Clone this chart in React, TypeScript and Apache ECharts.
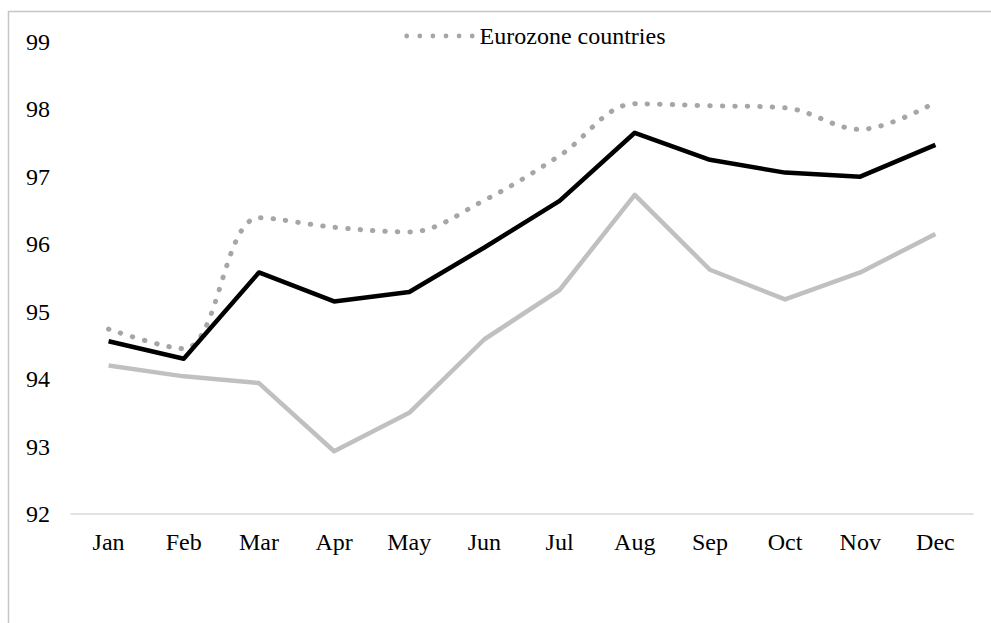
import React, { useEffect, useRef } from "react";
import * as echarts from "echarts";

const months = ["Jan", "Feb", "Mar", "Apr", "May", "Jun", "Jul", "Aug", "Sep", "Oct", "Nov", "Dec"];
const eurozone = [94.74, 94.45, 96.39, 96.25, 96.18, 96.65, 97.31, 98.08, 98.05, 98.02, 97.7, 98.1];
const blackSeries = [94.56, 94.3, 95.58, 95.15, 95.29, 95.95, 96.64, 97.65, 97.25, 97.06, 97.0, 97.47];
const graySeries = [94.2, 94.04, 93.94, 92.93, 93.5, 94.59, 95.32, 96.73, 95.62, 95.18, 95.58, 96.15];
const yMin = 92;
const yMax = 99;

const FONT = "'Liberation Serif', 'Times New Roman', serif";

// Legend key: a row of six round dots, like the dotted series stroke.
function dotRowPath(count: number, r: number, step: number): string {
  let d = "path://";
  for (let i = 0; i < count; i++) {
    const cx = r + i * step;
    d += `M${cx - r},${r}A${r},${r},0,1,0,${cx + r},${r}A${r},${r},0,1,0,${cx - r},${r}Z`;
  }
  return d;
}

export default function App() {
  const ref = useRef<HTMLDivElement>(null);

  useEffect(() => {
    if (!ref.current) return;
    const chart = echarts.init(ref.current, undefined, { renderer: "svg" });
    chart.setOption({
      animation: false,
      backgroundColor: "#ffffff",
      textStyle: { fontFamily: FONT },
      grid: { left: 71, right: 18, top: 41.7, bottom: 109, containLabel: false },
      legend: {
        data: [{ name: "Eurozone countries", icon: dotRowPath(6, 2.4, 13.1) }],
        left: 399.3,
        top: 19,
        itemWidth: 70.3,
        itemHeight: 4.8,
        textStyle: { fontFamily: FONT, fontSize: 24, color: "#000" },
      },
      xAxis: {
        type: "category",
        data: months,
        boundaryGap: true,
        axisLine: { show: true, lineStyle: { color: "#D9D9D9", width: 1.5 } },
        axisTick: { show: false },
        axisLabel: { color: "#000", fontSize: 24, fontFamily: FONT, margin: 16 },
        splitLine: { show: false },
      },
      yAxis: {
        type: "value",
        min: yMin,
        max: yMax,
        interval: 1,
        axisLine: { show: false },
        axisTick: { show: false },
        splitLine: { show: false },
        axisLabel: { color: "#000", fontSize: 24, fontFamily: FONT, margin: 21 },
      },
      graphic: [
        {
          type: "rect",
          shape: { x: 8.5, y: 11.5, width: 1100, height: 800 },
          style: { fill: "none", stroke: "#C6C6C6", lineWidth: 1.5 },
          silent: true,
          z: -1,
        },
      ],
      series: [
        {
          name: "Eurozone countries",
          type: "line",
          data: eurozone,
          smooth: 0.35,
          symbol: "none",
          lineStyle: { color: "#A6A6A6", width: 5, type: [0.5, 12], cap: "round" },
          itemStyle: { color: "#A6A6A6" },
          z: 3,
        },
        {
          name: "Total",
          type: "line",
          data: blackSeries,
          symbol: "none",
          lineStyle: { color: "#000000", width: 4.5, join: "round" },
          itemStyle: { color: "#000000" },
          z: 4,
        },
        {
          name: "Other",
          type: "line",
          data: graySeries,
          symbol: "none",
          lineStyle: { color: "#C0C0C0", width: 4.5, join: "round" },
          itemStyle: { color: "#C0C0C0" },
          z: 2,
        },
      ],
    });
    return () => chart.dispose();
  }, []);

  return (
    <div
      ref={ref}
      style={{ position: "fixed", left: 0, top: 0, width: 991, height: 623, background: "#fff" }}
    />
  );
}
